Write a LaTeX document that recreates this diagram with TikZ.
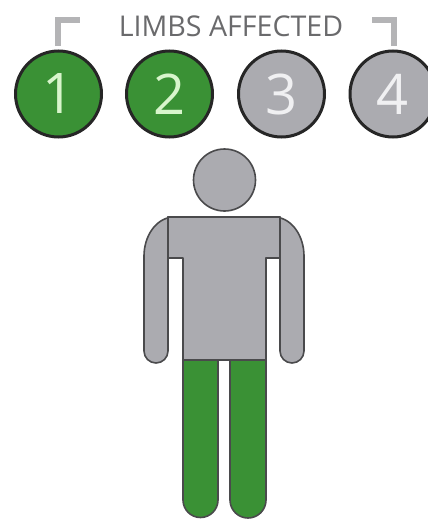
\documentclass[tikz,border=0pt]{standalone}
\usepackage{fontspec}
\setmainfont{Open Sans}
\definecolor{limbgreen}{HTML}{3A9135}
\definecolor{limbgray}{HTML}{ABABB0}
\definecolor{linegray}{HTML}{4A4A4C}
\definecolor{brack}{HTML}{B4B4B6}
\definecolor{labelgray}{HTML}{6A6A6C}
\definecolor{digitgreen}{HTML}{D8F5CC}
\definecolor{digitgray}{HTML}{F0F0F2}
\tikzset{
  limbcircle/.style={circle,draw=black!85,line width=3pt,minimum size=86pt,inner sep=0pt,font=\fontsize{56}{56}\selectfont},
  oncircle/.style={limbcircle,fill=limbgreen,text=digitgreen},
  offcircle/.style={limbcircle,fill=limbgray,text=digitgray},
  bracket/.style={draw=brack,line width=6pt,line cap=butt,line join=miter},
  bodypart/.style={draw=linegray,line width=1.6pt,fill=limbgray,line join=round},
  legpart/.style={draw=linegray,line width=1.6pt,fill=limbgreen,line join=round},
}
\begin{document}
\begin{tikzpicture}[x=1pt,y=-1pt]
\useasboundingbox (0,0) rectangle (428,519);
\clip (0,0) rectangle (428,519);
% bracket + label
\draw[bracket] (57.5,46) -- (57.5,20) -- (80,20);
\draw[bracket] (372,20) -- (393.5,20) -- (393.5,46);
\node[text=labelgray,inner sep=0pt,font=\fontsize{28.6}{28.6}\selectfont] (label) at (231,26) {LIMBS AFFECTED};
% circles
\node[oncircle] (c1) at (58.5,94) {1};
\node[oncircle] (c2) at (169.5,94) {2};
\node[offcircle] (c3) at (281.5,94) {3};
\node[offcircle] (c4) at (393,94) {4};
% head
\node[circle,bodypart,minimum size=62pt,inner sep=0pt] (head) at (224.5,180) {};
% legs
\draw[legpart] (183,360) -- (183,500) arc[start angle=180,end angle=0,radius=17.5,y=1pt] -- (218,360) -- cycle;
\draw[legpart] (230,360) -- (230,500) arc[start angle=180,end angle=0,radius=18,y=1pt] -- (266,360) -- cycle;
% arms
\draw[bodypart] (172,217) .. controls (155,219) and (144,237) .. (144,256) -- (144,351) arc[start angle=180,end angle=0,radius=12,y=1pt] -- (168,217) -- cycle;
\draw[bodypart] (276,217) .. controls (293,219) and (304,237) .. (304,256) -- (304,351) arc[start angle=0,end angle=180,radius=12,y=1pt] -- (280,217) -- cycle;
% torso
\draw[bodypart] (168,217) -- (280,217) -- (280,258) -- (266,258) -- (266,360) -- (183,360) -- (183,258) -- (168,258) -- cycle;
\end{tikzpicture}
\end{document}
